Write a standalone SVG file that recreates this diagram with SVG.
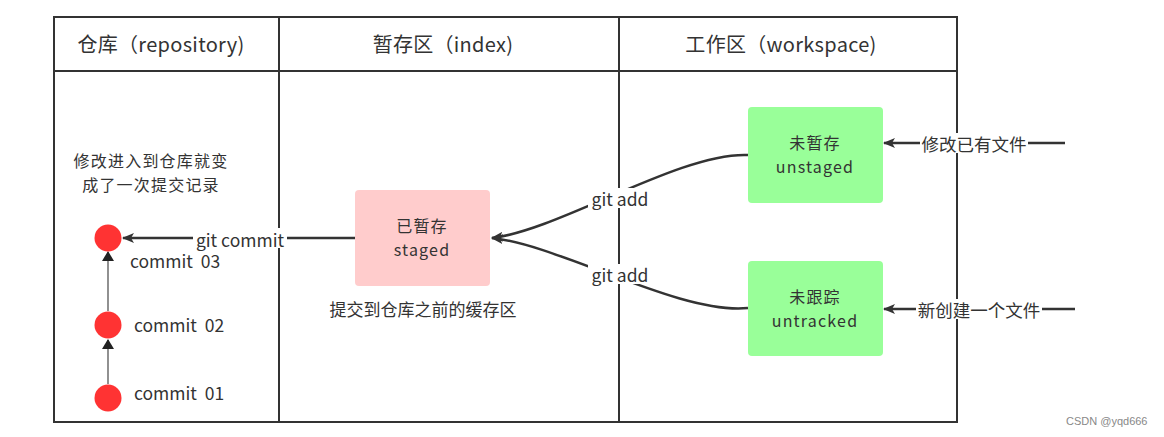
<svg xmlns="http://www.w3.org/2000/svg" width="1164" height="437" viewBox="0 0 1164 437">
<style>
text{font-family:"Microsoft YaHei","Noto Sans CJK SC","Noto Sans",sans-serif;fill:#333;}
.hd{font-size:20px;text-anchor:middle;letter-spacing:0.3px;}
.nd{font-size:16px;text-anchor:middle;letter-spacing:1.2px;}
.lb{font-size:17.5px;text-anchor:middle;dominant-baseline:central;}
.cm{font-size:17.5px;white-space:pre;}
.note{font-size:16px;text-anchor:middle;letter-spacing:1.2px;}
.note1{font-size:17px;text-anchor:middle;}
.grid{stroke:#333;stroke-width:2;fill:none;}
.thick{stroke:#333;stroke-width:2.5;fill:none;}
.thin{stroke:#555;stroke-width:1.3;fill:none;}
.bg{fill:#fff;}
</style>
<defs>
<marker id="ah" viewBox="0 0 12 10" refX="11" refY="5" markerWidth="12" markerHeight="10" markerUnits="userSpaceOnUse" orient="auto">
<path d="M0,0 L12,5 L0,10 L3,5 Z" fill="#333"/>
</marker>
<marker id="ahs" viewBox="0 0 10 12" refX="9" refY="6" markerWidth="10" markerHeight="12" markerUnits="userSpaceOnUse" orient="auto">
<path d="M0,0 L10,6 L0,12 Z" fill="#222"/>
</marker>
</defs>
<rect width="1164" height="437" fill="#fff"/>
<g id="table">
<rect x="54" y="17" width="903" height="405" class="grid"/>
<line x1="54" y1="71" x2="957" y2="71" class="grid"/>
<line x1="279" y1="17" x2="279" y2="422" class="grid"/>
<line x1="619" y1="17" x2="619" y2="422" class="grid"/>
<text class="hd" x="161" y="52">仓库（repository)</text>
<text class="hd" x="443" y="52">暂存区（index)</text>
<text class="hd" x="781" y="52">工作区（workspace)</text>
</g>
<g id="connectors">
<line x1="108" y1="384" x2="108" y2="340" class="thin" marker-end="url(#ahs)"/>
<line x1="108" y1="311" x2="108" y2="252" class="thin" marker-end="url(#ahs)"/>
<line x1="355" y1="238" x2="123" y2="238" class="thick" marker-end="url(#ah)"/>
<path d="M748,155 C680,152 560,230 492,238" class="thick" marker-end="url(#ah)"/>
<path d="M748,308 C680,315 560,245 492,238" class="thick" marker-end="url(#ah)"/>
<line x1="1065" y1="143" x2="884" y2="143" class="thick" marker-end="url(#ah)"/>
<line x1="1075" y1="309" x2="884" y2="309" class="thick" marker-end="url(#ah)"/>
<rect class="bg" x="193" y="228" width="94" height="20"/>
<text class="lb" x="240" y="239">git commit</text>
<rect class="bg" x="588" y="188" width="64" height="20"/>
<text class="lb" x="620" y="198">git add</text>
<rect class="bg" x="588" y="264" width="64" height="20"/>
<text class="lb" x="620" y="274">git add</text>
<rect class="bg" x="920" y="133" width="108" height="20"/>
<text class="lb" x="974" y="143">修改已有文件</text>
<rect class="bg" x="916" y="299" width="126" height="20"/>
<text class="lb" x="979" y="309">新创建一个文件</text>
</g>
<g id="commit03"><circle cx="108" cy="238" r="13.5" fill="#ff3333"/><text class="cm" x="130" y="268">commit  03</text></g>
<g id="commit02"><circle cx="108" cy="325" r="13.5" fill="#ff3333"/><text class="cm" x="134" y="332">commit  02</text></g>
<g id="commit01"><circle cx="108" cy="398" r="13.5" fill="#ff3333"/><text class="cm" x="134" y="400">commit  01</text></g>
<g id="note-repo">
<text class="note" x="151" y="167">修改进入到仓库就变<tspan x="151" dy="23.5">成了一次提交记录</tspan></text>
</g>
<g id="staged">
<rect x="355" y="190" width="135" height="96" rx="4" fill="#ffcccc"/>
<text class="nd" x="422" y="232">已暂存<tspan x="422" dy="23.5">staged</tspan></text>
</g>
<g id="note-index"><text class="note1" x="423" y="316">提交到仓库之前的缓存区</text></g>
<g id="unstaged">
<rect x="748" y="107" width="135" height="96" rx="4" fill="#99ff99"/>
<text class="nd" x="815" y="149">未暂存<tspan x="815" dy="23.5">unstaged</tspan></text>
</g>
<g id="untracked">
<rect x="748" y="261" width="135" height="95" rx="4" fill="#99ff99"/>
<text class="nd" x="815" y="303">未跟踪<tspan x="815" dy="23.5">untracked</tspan></text>
</g>
<text x="1066" y="425" style="font-size:11px;fill:#888;font-family:'Liberation Sans',sans-serif">CSDN @yqd666</text>
</svg>
